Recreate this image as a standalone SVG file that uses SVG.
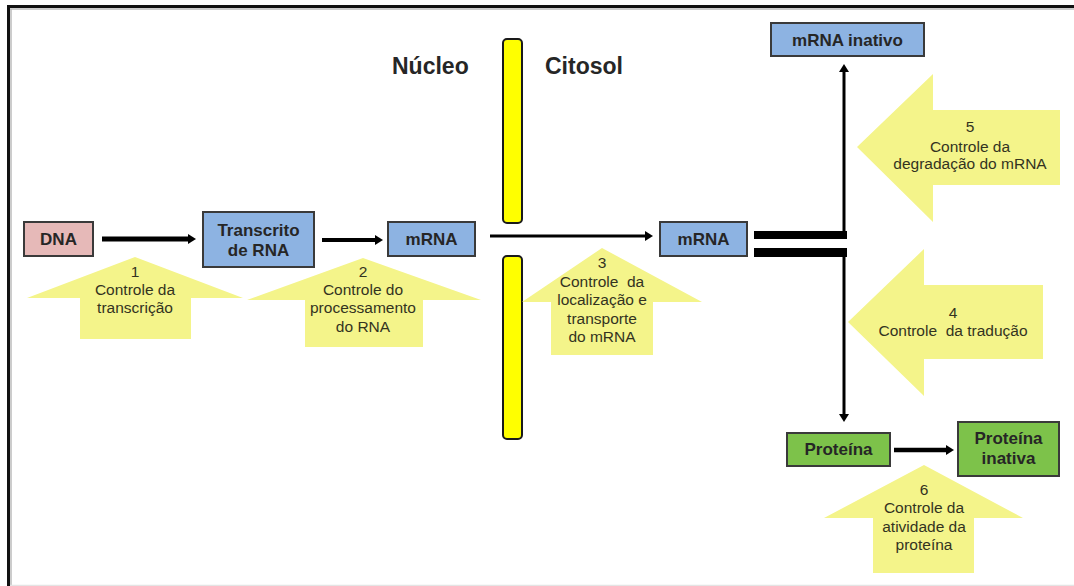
<svg xmlns="http://www.w3.org/2000/svg" width="1074" height="586" viewBox="0 0 1074 586">
<style>
.box{stroke:#3a3a3a;stroke-width:2}
.blue{fill:#8db3e2}
.pink{fill:#e6b9b8}
.green{fill:#7dc24a}
.lbl{font-family:"Liberation Sans",Arial,sans-serif;font-weight:bold;font-size:17px;fill:#262626;text-anchor:middle}
.hdr{font-family:"Liberation Sans",Arial,sans-serif;font-weight:bold;font-size:23px;fill:#262626}
.ya{fill:#f4f48a}
.yt{font-family:"Liberation Sans",Arial,sans-serif;font-size:15.5px;fill:#33331f;text-anchor:middle}
.ln{stroke:#000;fill:none}
.bar{fill:#ffff00;stroke:#1a1a1a;stroke-width:2}
</style>
<defs>
<marker id="ah" viewBox="0 0 8 10" refX="0" refY="5" markerWidth="8" markerHeight="10" markerUnits="userSpaceOnUse" orient="auto">
<path d="M0,0 L8,5 L0,10 z" fill="#000"/>
</marker>
</defs>
<rect width="1074" height="586" fill="#fff"/>
<g id="frame">
<line x1="7" y1="6.5" x2="1074" y2="6.5" stroke="#111" stroke-width="3"/>
<line x1="8.5" y1="5" x2="8.5" y2="586" stroke="#111" stroke-width="3"/>
<line x1="10" y1="9" x2="1074" y2="9" stroke="#bbb" stroke-width="1.5"/>
<line x1="11" y1="9" x2="11" y2="586" stroke="#bbb" stroke-width="1.5"/>
<line x1="10" y1="585.5" x2="1074" y2="585.5" stroke="#e4e4e4" stroke-width="1.5"/>
</g>
<g id="membrane">
<rect class="bar" x="503" y="39" width="19" height="184" rx="4"/>
<rect class="bar" x="503" y="256" width="19" height="183" rx="4"/>
</g>
<text class="hdr" x="392" y="74">Núcleo</text>
<text class="hdr" x="545" y="74">Citosol</text>
<g id="control1">
<polygon class="ya" points="135,257 243,298 191,298 191,339 80,339 80,298 27,298"/>
<text class="yt" x="135" y="277">1</text>
<text class="yt" x="135" y="295">Controle da</text>
<text class="yt" x="135" y="313">transcrição</text>
</g>
<g id="control2">
<polygon class="ya" points="363,258 481,300 423,300 423,347 305,347 305,300 247,300"/>
<text class="yt" x="363" y="277">2</text>
<text class="yt" x="363" y="295">Controle do</text>
<text class="yt" x="363" y="313">processamento</text>
<text class="yt" x="363" y="332">do RNA</text>
</g>
<g id="control3">
<polygon class="ya" points="602,248 702,302 653,302 653,355 551,355 551,302 522,302"/>
<text class="yt" x="602" y="268">3</text>
<text class="yt" x="602" y="287" xml:space="preserve">Controle  da</text>
<text class="yt" x="602" y="305">localização e</text>
<text class="yt" x="602" y="324">transporte</text>
<text class="yt" x="602" y="342">do mRNA</text>
</g>
<g id="control5">
<polygon class="ya" points="857,147 933,74 933,110 1060,110 1060,185 933,185 933,222"/>
<text class="yt" x="970" y="132">5</text>
<text class="yt" x="970" y="152">Controle da</text>
<text class="yt" x="970" y="169">degradação do mRNA</text>
</g>
<g id="control4">
<polygon class="ya" points="848,322 924,249 924,285 1043,285 1043,359 924,359 924,396"/>
<text class="yt" x="953" y="318">4</text>
<text class="yt" x="953" y="336" xml:space="preserve">Controle  da tradução</text>
</g>
<g id="control6">
<polygon class="ya" points="924,465 1023,518 974,518 974,573 873,573 873,518 824,518"/>
<text class="yt" x="924" y="495">6</text>
<text class="yt" x="924" y="513">Controle da</text>
<text class="yt" x="924" y="532">atividade da</text>
<text class="yt" x="924" y="550">proteína</text>
</g>
<g id="connectors">
<line class="ln" x1="102" y1="239" x2="188" y2="239" stroke-width="5" marker-end="url(#ah)"/>
<line class="ln" x1="322" y1="240" x2="375" y2="240" stroke-width="4" marker-end="url(#ah)"/>
<line class="ln" x1="490" y1="236" x2="645" y2="236" stroke-width="3" marker-end="url(#ah)"/>
<line x1="754" y1="235" x2="847" y2="235" stroke="#000" stroke-width="8"/>
<line x1="754" y1="252.5" x2="847" y2="252.5" stroke="#000" stroke-width="9"/>
<line class="ln" x1="844" y1="239" x2="844" y2="72" stroke-width="3" marker-end="url(#ah)"/>
<line class="ln" x1="844" y1="248" x2="844" y2="414" stroke-width="3" marker-end="url(#ah)"/>
<line class="ln" x1="894" y1="450" x2="946" y2="450" stroke-width="4.5" marker-end="url(#ah)"/>
</g>
<g id="dna">
<rect class="box pink" x="24" y="222" width="69" height="34"/>
<text class="lbl" x="58.5" y="245">DNA</text>
</g>
<g id="transcrito">
<rect class="box blue" x="203" y="212" width="111" height="55"/>
<text class="lbl" x="258.5" y="236">Transcrito</text>
<text class="lbl" x="258.5" y="256">de RNA</text>
</g>
<g id="mrna1">
<rect class="box blue" x="388" y="222" width="87" height="34"/>
<text class="lbl" x="431.5" y="245">mRNA</text>
</g>
<g id="mrna2">
<rect class="box blue" x="660" y="222" width="87" height="34"/>
<text class="lbl" x="703.5" y="245">mRNA</text>
</g>
<g id="mrna-inativo">
<rect class="box blue" x="771" y="23" width="153" height="33"/>
<text class="lbl" x="847.5" y="46">mRNA inativo</text>
</g>
<g id="proteina">
<rect class="box green" x="787" y="433" width="103" height="33"/>
<text class="lbl" x="838.5" y="455">Proteína</text>
</g>
<g id="proteina-inativa">
<rect class="box green" x="958" y="422" width="101" height="54"/>
<text class="lbl" x="1008.5" y="444">Proteína</text>
<text class="lbl" x="1008.5" y="464">inativa</text>
</g>
</svg>
